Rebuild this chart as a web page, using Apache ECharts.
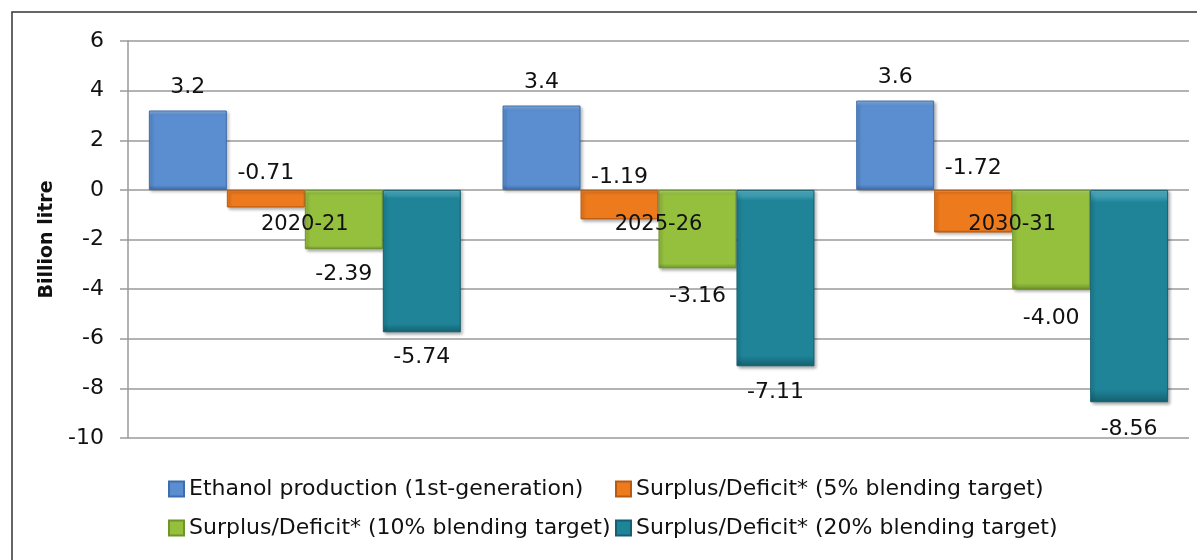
<!DOCTYPE html>
<html>
<head>
<meta charset="utf-8">
<script src="https://cdn.jsdelivr.net/npm/echarts@6/dist/echarts.min.js"></script>
<style>
  html, body { margin: 0; padding: 0; background: #fff; }
  #chart { width: 1197px; height: 560px; }
</style>
</head>
<body>
<div id="chart"></div>
<script>
// data
var years = ['2020-21', '2025-26', '2030-31']
var seriesNames = [
  'Ethanol production (1st-generation)',
  'Surplus/Deficit* (5% blending target)',
  'Surplus/Deficit* (10% blending target)',
  'Surplus/Deficit* (20% blending target)'
]
var ethanolProduction = [3.2, 3.4, 3.6]
var surplus5 = [-0.71, -1.19, -1.72]
var surplus10 = [-2.39, -3.16, -4.00]
var surplus20 = [-5.74, -7.11, -8.56]
var yTicks = [-10, -8, -6, -4, -2, 0, 2, 4, 6]

var FONT = 'DejaVu Sans'
var colors = ['#5A8ED0', '#EE7A1E', '#95C03E', '#1F8498']
var tops = ['#8DB8EA', '#F7A55C', '#B9DB6C', '#5CB8CC']
var borders = ['#3D6DAA', '#B85A10', '#6F9428', '#14606F']

// label placement per series (style, not data)
var labelPos = ['top', 'top', 'bottom', 'bottom']
var labelDist = [
  [12, 12, 12],
  [6, 2, 11],
  [14, 17, 18],
  [14, 15, 16]
]

function fmt(v, i) {
  return i === 0 ? v.toFixed(1) : v.toFixed(2)
}

var allValues = [ethanolProduction, surplus5, surplus10, surplus20]

var series = allValues.map(function (vals, i) {
  return {
    name: seriesNames[i],
    type: 'bar',
    barGap: '0%',
    barCategoryGap: '11.8%',
    itemStyle: {
      color: new echarts.graphic.LinearGradient(0, 0, 0, 1, [
        { offset: 0, color: tops[i] },
        { offset: 0.06, color: colors[i] },
        { offset: 0.94, color: colors[i] },
        { offset: 1, color: borders[i] }
      ]),
      borderColor: borders[i],
      borderWidth: 1,
      shadowColor: 'rgba(0,0,0,0.3)',
      shadowBlur: 3,
      shadowOffsetX: 2,
      shadowOffsetY: 2
    },
    data: vals.map(function (v, j) {
      return {
        value: v,
        label: { distance: labelDist[i][j] }
      }
    }),
    label: {
      show: true,
      position: labelPos[i],
      fontFamily: FONT,
      fontSize: 22,
      color: '#111',
      formatter: function (p) { return fmt(p.value, i) }
    }
  }
})

var legendText = { fontFamily: FONT, fontSize: 22, color: '#111', lineHeight: 24 }

var chart = echarts.init(document.getElementById('chart'))
chart.setOption({
  animation: false,
  backgroundColor: '#fff',
  graphic: [{
    type: 'rect',
    shape: { x: 12, y: 12, width: 1250, height: 600 },
    style: { fill: 'none', stroke: '#333', lineWidth: 1.5 },
    silent: true,
    z: -1
  }],
  grid: { left: 128, right: 8, top: 41, bottom: 122 },
  legend: [{
    orient: 'vertical',
    left: 168,
    top: 477,
    padding: 0,
    itemGap: 15,
    itemWidth: 15,
    itemHeight: 15,
    icon: 'rect',
    data: [seriesNames[0], seriesNames[2]],
    textStyle: legendText
  }, {
    orient: 'vertical',
    left: 615,
    top: 477,
    padding: 0,
    itemGap: 15,
    itemWidth: 15,
    itemHeight: 15,
    icon: 'rect',
    data: [seriesNames[1], seriesNames[3]],
    textStyle: legendText
  }],
  xAxis: {
    type: 'category',
    data: years,
    z: 5,
    // category labels sit on the zero line, as in the original
    offset: -249,
    axisLine: { show: false },
    axisTick: { show: false },
    axisLabel: {
      margin: 25,
      fontFamily: FONT,
      fontSize: 21,
      color: '#111'
    }
  },
  yAxis: {
    type: 'value',
    min: yTicks[0],
    max: yTicks[yTicks.length - 1],
    interval: 2,
    name: 'Billion litre',
    nameLocation: 'middle',
    nameGap: 71,
    nameTextStyle: { fontFamily: FONT, fontSize: 19, fontWeight: 'bold', color: '#111' },
    axisLine: { show: true, lineStyle: { color: '#9a9a9a', width: 1.5 } },
    axisTick: { show: true, length: 8, lineStyle: { color: '#9a9a9a', width: 1.5 } },
    axisLabel: { margin: 24, fontFamily: FONT, fontSize: 22, color: '#111' },
    splitLine: { lineStyle: { color: '#9a9a9a', width: 1.5 } }
  },
  series: series
})
</script>
</body>
</html>
